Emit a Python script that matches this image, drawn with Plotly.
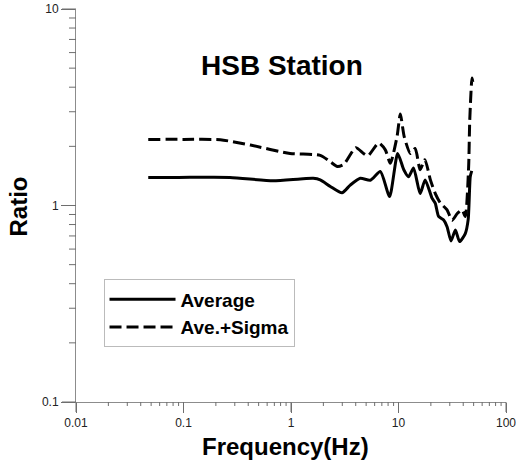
import math
import plotly.graph_objects as go

# Average curve
avg_freq = [0.047, 0.09, 0.27, 0.68, 1.22, 1.61, 1.87, 2.32, 2.98, 3.56, 4.41, 5.47, 6.78,
            8.26, 9.82, 11.2, 12.4, 13.8, 15.9, 17.7, 20.5, 22.0, 23.6, 26.3, 28.3, 30.8,
            33.8, 37.0, 41.8, 44.5, 46.5, 48.0]
avg_ratio = [1.39, 1.39, 1.39, 1.335, 1.365, 1.375, 1.35, 1.25, 1.16, 1.27, 1.375, 1.345, 1.49,
             1.11, 1.84, 1.52, 1.40, 1.55, 1.15, 1.35, 1.09, 1.026, 0.88, 0.844, 0.78, 0.66,
             0.75, 0.655, 0.72, 0.85, 1.40, 1.50]

# Average + Sigma curve
sig_freq = [0.047, 0.1, 0.22, 0.42, 0.98, 1.87, 2.32, 2.7, 3.1, 4.0, 4.73, 5.2, 6.53, 7.54,
            8.39, 9.69, 10.4, 11.3, 12.9, 14.3, 15.9, 17.6, 19.8, 22.0, 24.5, 28.3, 31.5,
            35.2, 39.0, 41.8, 44.9, 46.0, 48.3, 49.6]
sig_ratio = [2.17, 2.17, 2.16, 2.03, 1.84, 1.80, 1.67, 1.58, 1.62, 1.97, 1.84, 1.79, 2.08, 1.92,
             1.64, 2.24, 2.92, 2.24, 1.84, 1.95, 1.52, 1.71, 1.35, 1.15, 1.03, 0.95, 0.84,
             0.91, 0.95, 0.88, 1.57, 2.72, 4.45, 4.10]

series_names = ["Average", "Ave.+Sigma"]
x_major = [0.01, 0.1, 1, 10, 100]
x_labels = ["0.01", "0.1", "1", "10", "100"]
y_major = [0.1, 1, 10]
y_labels = ["0.1", "1", "10"]
x_minor = [m * d for d in [0.01, 0.1, 1, 10] for m in range(2, 10)]
y_minor = [m * d for d in [0.1, 1] for m in range(2, 10)]
x_range = [0.01, 100]
y_range = [0.1, 10]

FONT = "Arial, Liberation Sans, sans-serif"
GREY = "#8c8c8c"
TICK = "#6e6e6e"

fig = go.Figure()
fig.add_trace(go.Scatter(x=avg_freq, y=avg_ratio, mode="lines", name=series_names[0],
                         line=dict(color="black", width=3, shape="spline", smoothing=0.6)))
fig.add_trace(go.Scatter(x=sig_freq, y=sig_ratio, mode="lines", name=series_names[1],
                         line=dict(color="black", width=3, dash="12px,5px", shape="spline", smoothing=0.6)))

common = dict(type="log", showgrid=False, zeroline=False, automargin=False,
              showline=True, linecolor=GREY, linewidth=1, ticklabeloverflow="allow",
              tickfont=dict(family=FONT, size=12, color="#222"))

fig.update_layout(
    xaxis=dict(**common, range=[math.log10(x_range[0]), math.log10(x_range[1])],
               tickmode="array", tickvals=x_major, ticktext=x_labels,
               ticks="outside", ticklen=10, tickwidth=1, tickcolor=TICK),
    yaxis=dict(**common, range=[math.log10(y_range[0]), math.log10(y_range[1])],
               tickmode="array", tickvals=y_major, ticktext=y_labels,
               ticks="outside", ticklen=14, tickwidth=1, tickcolor=TICK),
)


def xfrac(v):
    lo, hi = math.log10(x_range[0]), math.log10(x_range[1])
    return (math.log10(v) - lo) / (hi - lo)


def yfrac(v):
    lo, hi = math.log10(y_range[0]), math.log10(y_range[1])
    return (math.log10(v) - lo) / (hi - lo)


# tick marks drawn as pixel-length decorations along the axes
for vals, length in ((x_major, 10), (x_minor, 4)):
    for v in vals:
        f = xfrac(v)
        fig.add_shape(type="line", xref="paper", yref="paper", x0=f, x1=f, ysizemode="pixel",
                      yanchor=0, y0=0, y1=-length, line=dict(color=TICK, width=1), layer="above")
for vals, length in ((y_major, 14), (y_minor, 7)):
    for v in vals:
        f = yfrac(v)
        fig.add_shape(type="line", xref="paper", yref="paper", y0=f, y1=f, xsizemode="pixel",
                      xanchor=0, x0=0, x1=-length, line=dict(color=TICK, width=1), layer="above")

fig.add_annotation(text="<b>HSB Station</b>", x=0.48, y=0.855, xref="paper", yref="paper",
                   xanchor="center", yanchor="middle",
                   showarrow=False, font=dict(family=FONT, size=28, color="black"))
fig.add_annotation(text="<b>Frequency(Hz)</b>", x=0.488, y=-0.112, xref="paper", yref="paper",
                   xanchor="center", yanchor="middle",
                   showarrow=False, font=dict(family=FONT, size=24, color="black"))
fig.add_annotation(text="<b>Ratio</b>", x=-0.133, y=0.497, xref="paper", yref="paper",
                   xanchor="center", yanchor="middle",
                   showarrow=False, textangle=-90, font=dict(family=FONT, size=24, color="black"))

fig.update_layout(
    width=516, height=463,
    margin=dict(l=76, r=10, t=9, b=61, autoexpand=False),
    paper_bgcolor="white", plot_bgcolor="white",
    showlegend=True,
    legend=dict(x=0.064, y=0.312, xanchor="left", yanchor="top",
                bordercolor="#bbbbbb", borderwidth=1, bgcolor="white",
                font=dict(family=FONT, size=19, color="black", weight="bold"),
                itemwidth=66, tracegroupgap=0),
)

fig.write_html("out.html", config={"displayModeBar": False},
               post_script="document.body.style.margin='0';")
